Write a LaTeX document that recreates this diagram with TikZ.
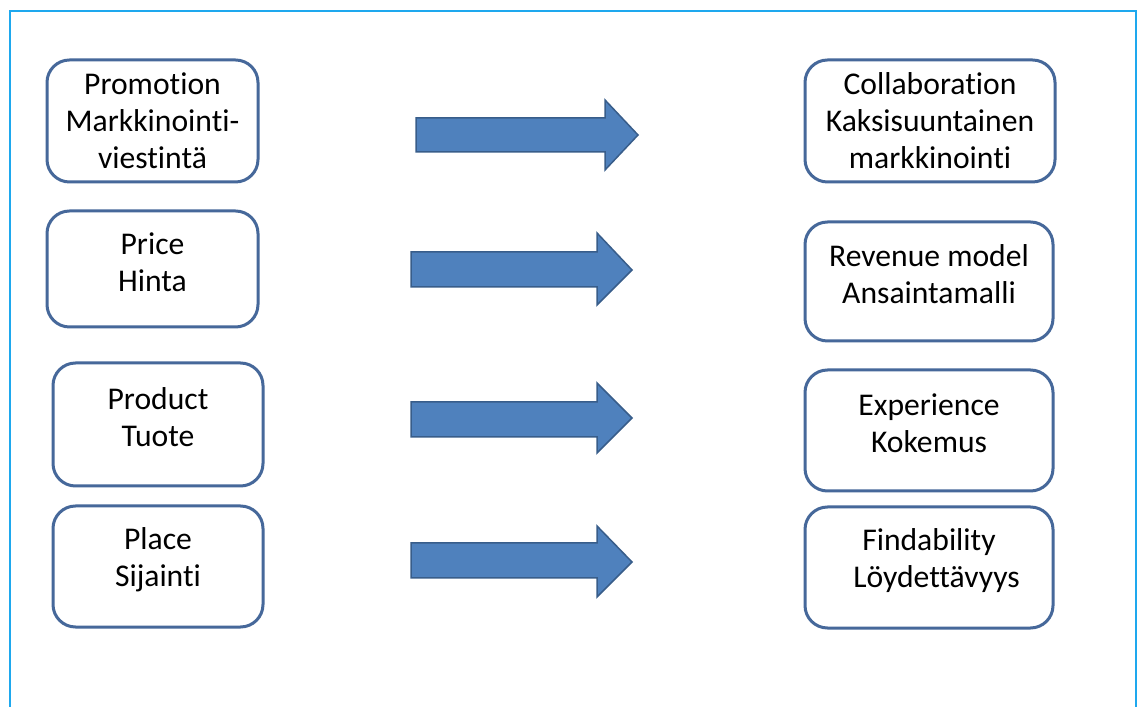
\documentclass[tikz,border=0pt]{standalone}
\usepackage{fontspec}
\setmainfont{Carlito}[Ligatures=NoCommon]
\usetikzlibrary{arrows}

\definecolor{framecol}{RGB}{30,168,238}
\definecolor{boxcol}{RGB}{70,104,154}
\definecolor{arrowfill}{RGB}{79,129,189}
\definecolor{arrowedge}{RGB}{56,93,138}

\tikzstyle{box} = [draw=boxcol, line width=0.6mm, rounded corners=0.45cm, fill=white]
\tikzstyle{txt} = [align=center, font=\fontsize{18}{21}\selectfont, inner sep=0pt]
\tikzstyle{block} = [fill=arrowfill, draw=arrowedge, line width=0.3mm]

\begin{document}
\begin{tikzpicture}[]

		\fill[white] (0,0) rectangle (22.76,14.12);
		\useasboundingbox (0,0) rectangle (22.76,14.12);

		%frame
		\draw[framecol, line width=0.4mm] (0.2,-0.5) -- (0.2,13.9) -- (22.72,13.9) -- (22.72,-0.5);

		%old boxes
		\node[box, minimum width=4.22cm, minimum height=2.44cm](promo) at (3.05,11.70) {};
		\node[box, minimum width=4.22cm, minimum height=2.32cm](price) at (3.05,8.74) {};
		\node[box, minimum width=4.20cm, minimum height=2.46cm](product) at (3.16,5.63) {};
		\node[box, minimum width=4.20cm, minimum height=2.42cm](place) at (3.16,2.79) {};
		%new boxes
		\node[box, minimum width=5.00cm, minimum height=2.44cm](collab) at (18.60,11.70) {};
		\node[box, minimum width=4.96cm, minimum height=2.38cm](revenue) at (18.58,8.49) {};
		\node[box, minimum width=4.96cm, minimum height=2.42cm](experience) at (18.58,5.51) {};
		\node[box, minimum width=4.96cm, minimum height=2.42cm](findability) at (18.58,2.77) {};

		%labels
		\node[txt](promotxt) at (promo.center) {Promotion\\Markkinointi-\\viestintä};
		\node[txt](pricetxt) at ([yshift=0.14cm]price.center) {Price\\Hinta};
		\node[txt](producttxt) at ([yshift=0.14cm]product.center) {Product\\Tuote};
		\node[txt](placetxt) at ([yshift=0.14cm]place.center) {Place\\Sijainti};
		\node[txt](collabtxt) at (collab.center) {Collaboration\\Kaksisuuntainen\\markkinointi};
		\node[txt](revenuetxt) at ([yshift=0.14cm]revenue.center) {Revenue model\\Ansaintamalli};
		\node[txt](experiencetxt) at ([yshift=0.14cm]experience.center) {Experience\\Kokemus};
		\node[txt](findabilitytxt) at ([yshift=0.14cm]findability.center) {Findability\\\hspace*{0.3cm}Löydettävyys};

		%arrows
		\draw[block] (8.32,11.76) -- (12.10,11.76) -- (12.10,12.12) -- (12.76,11.42) -- (12.10,10.72) -- (12.10,11.08) -- (8.32,11.08) -- cycle;
		\draw[block] (8.22,9.08) -- (11.94,9.08) -- (11.94,9.46) -- (12.64,8.72) -- (11.94,8.02) -- (11.94,8.38) -- (8.22,8.38) -- cycle;
		\draw[block] (8.22,6.08) -- (11.94,6.08) -- (11.94,6.46) -- (12.64,5.76) -- (11.94,5.06) -- (11.94,5.38) -- (8.22,5.38) -- cycle;
		\draw[block] (8.22,3.26) -- (11.94,3.26) -- (11.94,3.60) -- (12.64,2.88) -- (11.94,2.18) -- (11.94,2.56) -- (8.22,2.56) -- cycle;
		\end{tikzpicture}
\end{document}
